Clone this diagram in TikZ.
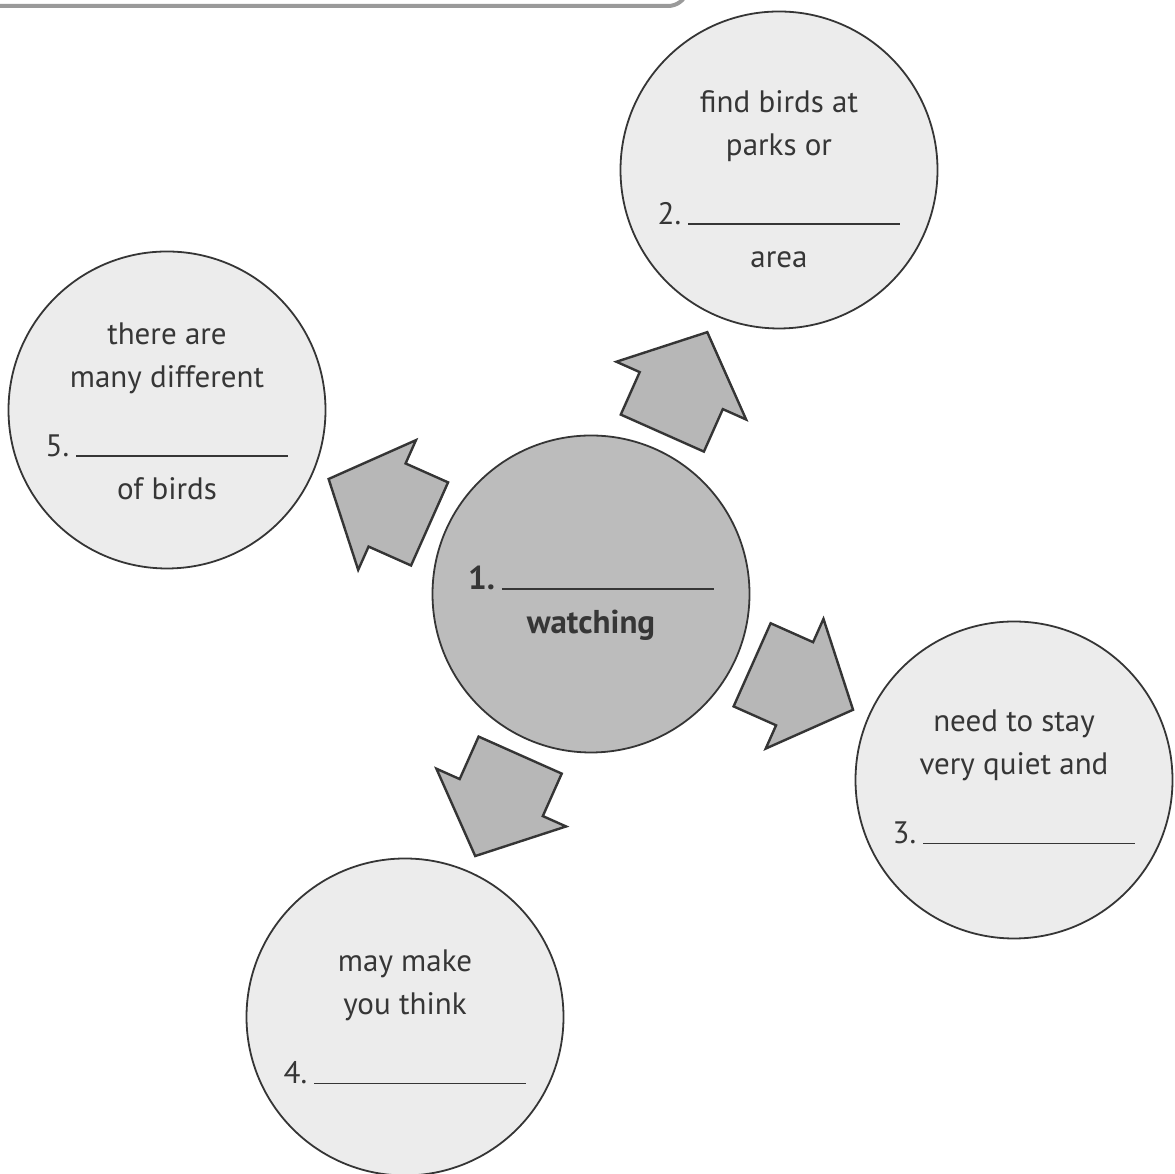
\documentclass[tikz,border=0pt]{standalone}
\usepackage{fontspec}
\setmainfont{PT Sans}
\usetikzlibrary{calc}
\definecolor{inkgray}{HTML}{353535}
\definecolor{txtgray}{HTML}{363636}
\definecolor{pale}{HTML}{ECECEC}
\definecolor{midgray}{HTML}{BCBCBC}
\definecolor{arrgray}{HTML}{B7B7B7}
\definecolor{bandgray}{HTML}{9A9A9A}
\newcommand{\blankline}[1]{#1\hspace{7pt}\rule[-1pt]{212pt}{1.8pt}}

\begin{document}
\begin{tikzpicture}[
  x=1pt,y=1pt,
  font=\fontsize{31}{43}\selectfont,
  bubble/.style={circle,draw=inkgray,line width=1.8pt,fill=pale,minimum size=317pt,inner sep=0pt},
  hub/.style={bubble,fill=midgray},
  txt/.style={align=center,text=txtgray,inner sep=0pt},
  blkarr/.style={draw=inkgray,line width=2.4pt,fill=arrgray,line join=miter}]
\useasboundingbox (0,0) rectangle (1175,1174);

% frame edge at the top
\draw[bandgray,line width=4pt] (-10,1168) -- (668,1168) arc[start angle=-90,end angle=-20,radius=20];

\node[hub]    (ctr)   at (591,580)  {};
\node[bubble] (find)  at (779,1004) {};
\node[bubble] (kinds) at (167,764)  {};
\node[bubble] (quiet) at (1014,394) {};
\node[bubble] (think) at (405,157)  {};

% block arrows from the hub outwards
\foreach \n/\a in {find/66, kinds/156, quiet/-24, think/-114}
  \draw[blkarr,shift={($(ctr)!176pt!(\n)$)},rotate=\a]
    (0,-45.5) -- (46.5,-45.5) -- (46.5,-71) -- (110.5,0)
    -- (46.5,71) -- (46.5,45.5) -- (0,45.5) -- cycle;

\node[txt,font=\fontsize{33}{44}\selectfont\bfseries] (ctrtxt) at ([yshift=-9pt]ctr.center)
  {\blankline{1.}\\watching};
\node[txt] (findtxt) at ([yshift=-9pt]find.center)
  {find birds at\\parks or\\[26pt]\blankline{2.}\\area};
\node[txt] (kindstxt) at ([yshift=-1pt]kinds.center)
  {there are\\many different\\[26pt]\blankline{5.}\\of birds};
\node[txt] (quiettxt) at ([yshift=3pt]quiet.center)
  {need to stay\\very quiet and\\[26pt]\blankline{3.}};
\node[txt] (thinktxt) at (think.center)
  {may make\\you think\\[26pt]\blankline{4.}};
\end{tikzpicture}
\end{document}
